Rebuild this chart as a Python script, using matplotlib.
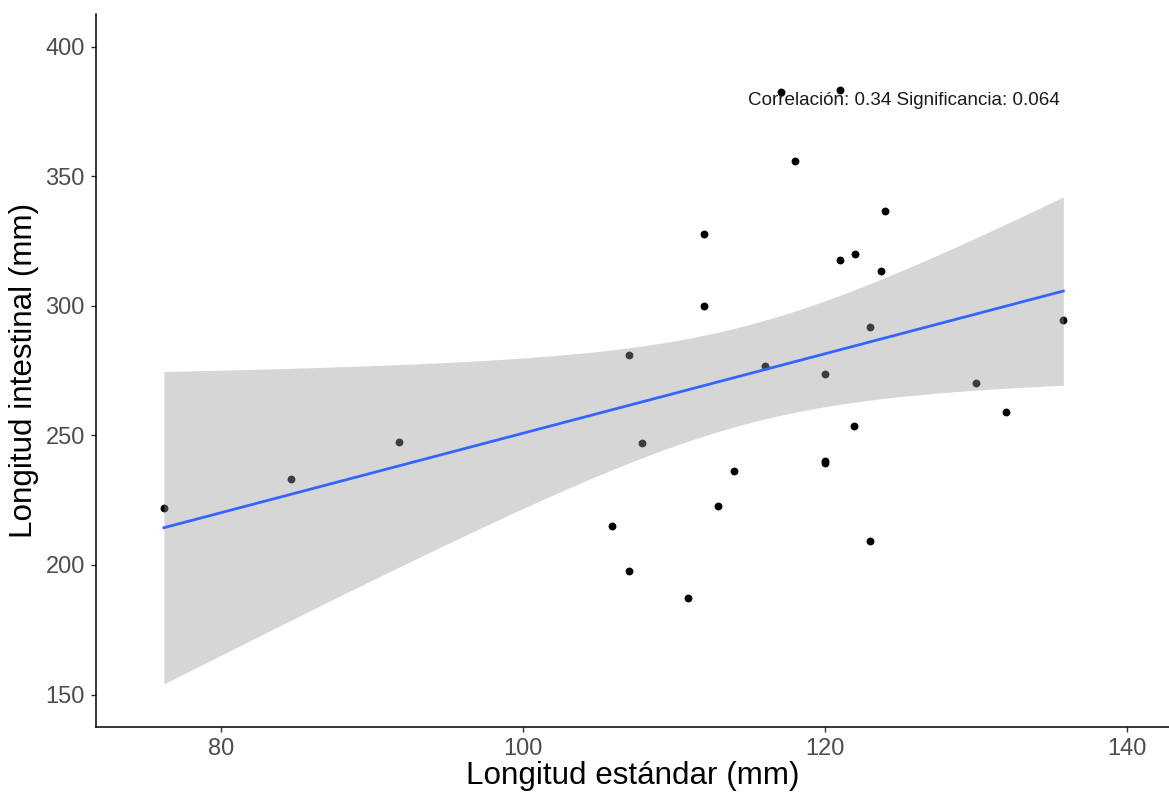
import numpy as np
import matplotlib
matplotlib.use('Agg')
import matplotlib.pyplot as plt

plt.rcParams['font.family'] = ['Liberation Sans', 'DejaVu Sans']

# standard length (mm) and intestinal length (mm)
longitud_std = [76.2, 84.6, 91.8, 105.9, 107.0, 107.0, 107.9, 110.9, 112.0, 112.0,
                112.9, 114.0, 116.0, 117.1, 118.0, 120.0, 120.0, 120.0, 121.0, 121.0,
                122.0, 121.9, 123.0, 123.0, 123.7, 124.0, 130.0, 132.0, 135.8]
longitud_int = [222.0, 233.1, 247.6, 215.0, 280.9, 197.5, 247.0, 187.4, 327.6, 300.0,
                222.7, 236.1, 276.9, 382.4, 355.7, 273.8, 240.3, 239.2, 317.8, 383.2,
                319.8, 253.8, 292.0, 209.2, 313.3, 336.4, 270.3, 258.9, 294.4]
anotacion = 'Correlación: 0.34 Significancia: 0.064'
t_975 = 2.052  # t quantile, df = n - 2

x = np.array(longitud_std)
y = np.array(longitud_int)
n = len(x)
slope, intercept = np.polyfit(x, y, 1)
resid = y - (slope * x + intercept)
s = np.sqrt(np.sum(resid ** 2) / (n - 2))
xs = np.linspace(x.min(), x.max(), 80)
fit = slope * xs + intercept
se = s * np.sqrt(1 / n + (xs - x.mean()) ** 2 / np.sum((x - x.mean()) ** 2))

fig = plt.figure(figsize=(11.69, 7.94), dpi=100)
ax = fig.add_axes([0.0821, 0.0848, 0.9179, 0.8976])

ax.scatter(x, y, s=32, color='black', zorder=2, linewidths=0)
ax.fill_between(xs, fit - t_975 * se, fit + t_975 * se, color='#999999', alpha=0.4,
                linewidth=0, zorder=3)
ax.plot(xs, fit, color='#3366FF', lw=2.0, zorder=4)
ax.text(125.2, 379.4, anotacion, ha='center', va='center', fontsize=13.6,
        color='#1a1a1a', zorder=5)

ax.set_xlim(71.7, 142.8)
ax.set_ylim(137.6, 412.6)
ax.set_xticks([80, 100, 120, 140])
ax.set_yticks([150, 200, 250, 300, 350, 400])
for side in ['top', 'right']:
    ax.spines[side].set_visible(False)
for side in ['left', 'bottom']:
    ax.spines[side].set_linewidth(1.1)
    ax.spines[side].set_color('black')
ax.tick_params(length=3.5, width=1.0, color='#333333', labelcolor='#4D4D4D',
               labelsize=17, pad=4.5)
ax.set_xlabel('Longitud estándar (mm)', fontsize=22.6, color='black', labelpad=1)
ax.set_ylabel('Longitud intestinal (mm)', fontsize=22.6, color='black', labelpad=5)

plt.savefig('out.png', dpi=100, facecolor='white')
